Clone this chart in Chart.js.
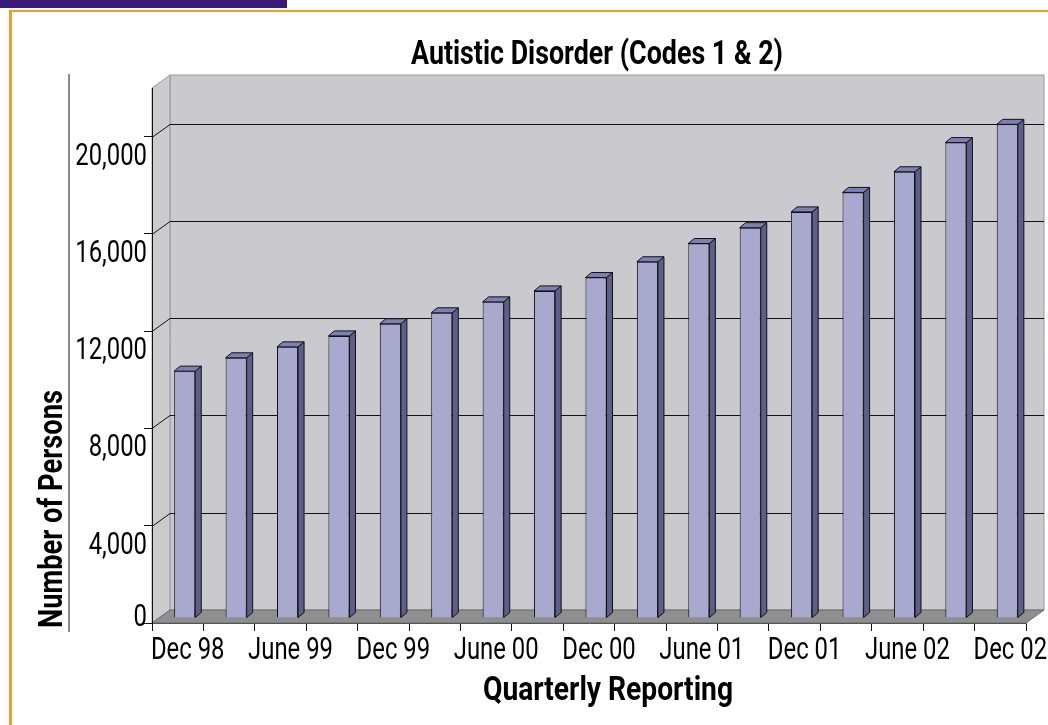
<!DOCTYPE html>
<html>
<head>
<meta charset="utf-8">
<script src="https://cdn.jsdelivr.net/npm/chart.js@4.4.0/dist/chart.umd.min.js"></script>
<style>
  html, body { margin: 0; padding: 0; background: #fff; }
  #wrap { position: relative; width: 1048px; height: 725px; overflow: hidden; }
  #topBar { position: absolute; left: 0; top: 0; width: 287px; height: 8px; background: #3d1a78; }
  #topLine { position: absolute; left: 9px; top: 10px; width: 1039px; height: 2px; background: #e8a02a; }
  #leftLine { position: absolute; left: 9px; top: 10px; width: 3px; height: 715px; background: #e8a02a; }
  #sepLine { position: absolute; left: 68px; top: 74px; width: 2px; height: 558px; background: #8a8a8a; }
  canvas { position: absolute; left: 0; top: 0; }
</style>
</head>
<body>
<div id="wrap">
  <canvas id="chart" width="1048" height="725"></canvas>
  <div id="topBar"></div>
  <div id="topLine"></div>
  <div id="leftLine"></div>
  <div id="sepLine"></div>
</div>

<script>
  // 분기별 데이터
  const quarters = ['Dec 98', 'Mar 99', 'June 99', 'Sept 99', 'Dec 99', 'Mar 00', 'June 00', 'Sept 00',
                    'Dec 00', 'Mar 01', 'June 01', 'Sept 01', 'Dec 01', 'Mar 02', 'June 02', 'Sept 02', 'Dec 02'];
  const persons = [10150, 10700, 11150, 11600, 12100, 12550, 13000, 13450,
                   14000, 14650, 15400, 16050, 16700, 17500, 18350, 19550, 20300];
  const yTicks = [0, 4000, 8000, 12000, 16000, 20000];

  const titleText = 'Autistic Disorder (Codes 1 & 2)';
  const xTitle = 'Quarterly Reporting';
  const yTitle = 'Number of Persons';

  // 좁은 글꼴이 없어서 가로로 눌러서 그림
  const FONT = 'Roboto, "Noto Sans", sans-serif';
  const LABEL_FONT = '31px ' + FONT;
  const LABEL_SX = 0.77;
  const BOLD_FONT = 'bold 33px ' + FONT;

  const wallDepth = { dx: 18, dy: -13 };  // 앞면 축 -> 뒷벽
  const barShift = { dx: 7, dy: -5 };     // 막대는 중간 깊이
  const barDepth = { dx: 6, dy: -5 };     // 막대 옆면/윗면 두께

  function poly(ctx, pts, fill, stroke) {
    ctx.beginPath();
    ctx.moveTo(pts[0][0], pts[0][1]);
    for (let i = 1; i < pts.length; i++) ctx.lineTo(pts[i][0], pts[i][1]);
    ctx.closePath();
    if (fill) { ctx.fillStyle = fill; ctx.fill(); }
    if (stroke) { ctx.strokeStyle = stroke; ctx.stroke(); }
  }

  function squeezeText(ctx, text, x, y, font, sx, align) {
    ctx.save();
    ctx.font = font;
    ctx.textAlign = align;
    ctx.textBaseline = 'alphabetic';
    ctx.translate(x, y);
    ctx.scale(sx, 1);
    ctx.fillText(text, 0, 0);
    ctx.restore();
  }

  // 목표 폭에 맞춰 그림
  function fitText(ctx, text, x, y, font, width) {
    ctx.save();
    ctx.font = font;
    const sx = width / ctx.measureText(text).width;
    ctx.restore();
    squeezeText(ctx, text, x, y, font, sx, 'center');
  }

  // 3D 벽, 바닥, 눈금선, 글자
  const wallPlugin = {
    id: 'wall',
    beforeDraw(chart) {
      const { ctx, chartArea: a, scales: { y } } = chart;
      const { dx, dy } = wallDepth;
      const yb = y.getPixelForValue(0);
      const yt = a.top;
      ctx.save();
      ctx.lineWidth = 1;
      // 뒷벽
      poly(ctx, [[a.left + dx, yt + dy], [a.right + dx, yt + dy], [a.right + dx, yb + dy], [a.left + dx, yb + dy]], '#cac9ce', '#9a9a9a');
      // 옆벽
      poly(ctx, [[a.left, yt], [a.left + dx, yt + dy], [a.left + dx, yb + dy], [a.left, yb]], '#cbcacf', '#9a9a9a');
      // 눈금선
      ctx.strokeStyle = '#111';
      yTicks.forEach(v => {
        if (v === 0) return;
        const py = Math.round(y.getPixelForValue(v)) + 0.5;
        ctx.beginPath();
        ctx.moveTo(a.left, py);
        ctx.lineTo(a.left + dx, py + dy);
        ctx.lineTo(a.right + dx, py + dy);
        ctx.stroke();
      });
      // 바닥
      poly(ctx, [[a.left, yb], [a.left + dx, yb + dy], [a.right + dx, yb + dy], [a.right, yb]], '#8f8f8f', '#6a6a6a');
      ctx.restore();
    },
    beforeDatasetsDraw(chart) {
      chart.ctx.save();
      chart.ctx.translate(barShift.dx, barShift.dy);
    },
    afterDatasetsDraw(chart) {
      const ctx = chart.ctx;
      const meta = chart.getDatasetMeta(0);
      ctx.lineWidth = 1;
      meta.data.forEach(bar => {
        const { x, y, base, width } = bar.getProps(['x', 'y', 'base', 'width'], true);
        const l = x - width / 2, r = x + width / 2;
        const { dx, dy } = barDepth;
        poly(ctx, [[r, y], [r + dx, y + dy], [r + dx, base + dy], [r, base]], '#5e5e8a', '#111');
        poly(ctx, [[l, y], [l + dx, y + dy], [r + dx, y + dy], [r, y]], '#7f7fb8', '#111');
      });
      ctx.restore();
    },
    afterDraw(chart) {
      const { ctx, scales: { x, y } } = chart;
      ctx.save();
      ctx.fillStyle = '#000';
      // y축 눈금 글자
      const y0 = y.getPixelForValue(0);
      yTicks.forEach(v => {
        const py = y.getPixelForValue(v);
        squeezeText(ctx, v.toLocaleString('en-US'), 147, Math.min(py + 28, y0 + 3), LABEL_FONT, LABEL_SX, 'right');
      });
      // x축 눈금 글자 (두 칸마다)
      quarters.forEach((q, i) => {
        if (i % 2) return;
        squeezeText(ctx, q, x.getPixelForValue(i) + 10, 659, LABEL_FONT, LABEL_SX, 'center');
      });
      // 제목들
      fitText(ctx, titleText, 597, 64, BOLD_FONT, 372);
      fitText(ctx, xTitle, 608, 700, BOLD_FONT, 250);
      ctx.translate(62, 509);
      ctx.rotate(-Math.PI / 2);
      fitText(ctx, yTitle, 0, 0, BOLD_FONT, 238);
      ctx.restore();
    }
  };

  new Chart(document.getElementById('chart'), {
    type: 'bar',
    data: {
      labels: quarters,
      datasets: [{
        data: persons,
        backgroundColor: '#a9a8cf',
        borderColor: '#111',
        borderWidth: 1,
        barPercentage: 0.41,
        categoryPercentage: 1
      }]
    },
    options: {
      responsive: false,
      animation: false,
      layout: { padding: { top: 88, right: 22, bottom: 0, left: 0 } },
      plugins: { legend: { display: false }, tooltip: { enabled: false } },
      scales: {
        x: {
          afterFit(scale) { scale.height = 102; },
          border: { display: true, color: '#555' },
          grid: { drawOnChartArea: false, drawTicks: true, tickLength: 8, color: '#111' },
          ticks: { display: false, autoSkip: false }
        },
        y: {
          min: 0,
          max: 22000,
          afterFit(scale) { scale.width = 152; },
          afterBuildTicks(scale) { scale.ticks = yTicks.map(v => ({ value: v })); },
          border: { display: true, color: '#111' },
          grid: { drawOnChartArea: false, drawTicks: true, tickLength: 8, color: '#111' },
          ticks: { display: false }
        }
      }
    },
    plugins: [wallPlugin]
  });
</script>
</body>
</html>
